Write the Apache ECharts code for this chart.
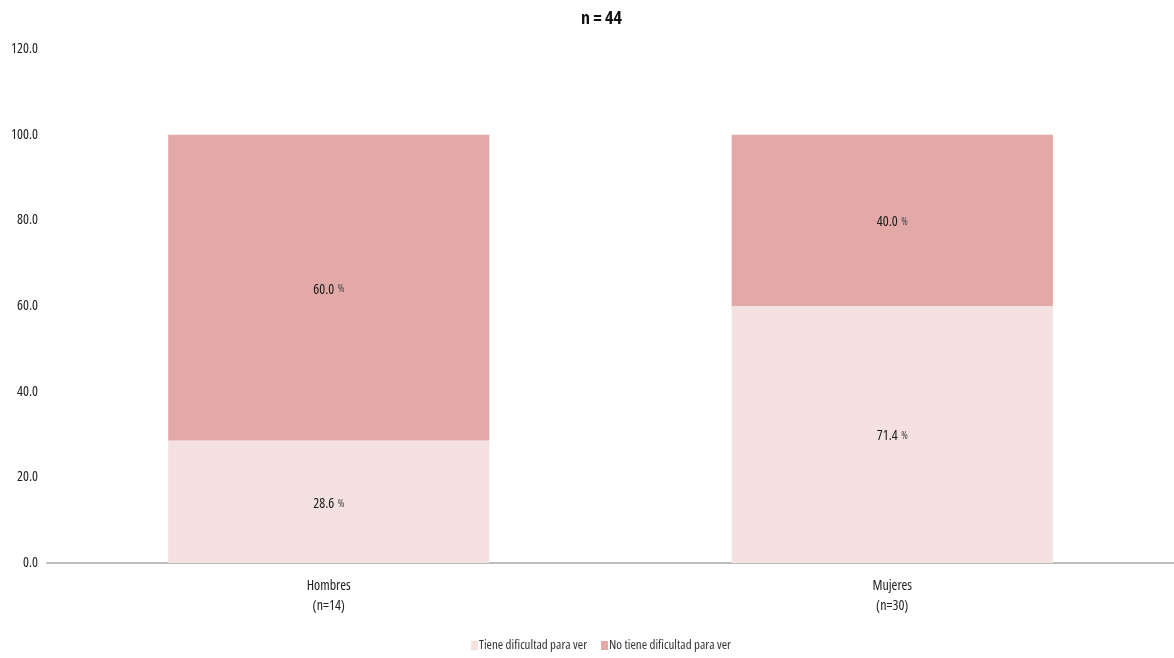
<!DOCTYPE html>
<html>
<head>
<meta charset="utf-8">
<script src="https://cdn.jsdelivr.net/npm/echarts@6/dist/echarts.min.js"></script>
<style>html,body{margin:0;padding:0;background:#fff}#c{width:1174px;height:658px}</style>
</head>
<body>
<div id="c"></div>
<script>
const categories = ['Hombres\n(n=14)', 'Mujeres\n(n=30)'];
const seriesNames = ['Tiene dificultad para ver', 'No tiene dificultad para ver'];
const tieneValues = [28.6, 60.0];
const noTieneValues = [71.4, 40.0];
const tieneLabels = ['28.6', '71.4'];
const noTieneLabels = ['60.0', '40.0'];
const titleText = 'n = 44';

const FONT = '"Open Sans", sans-serif';
const ST = 'condensed';
const chart = echarts.init(document.getElementById('c'), null, {renderer: 'canvas'});
function lbl(arr) {
  return {
    show: true, position: 'inside', offset: [0, 2],
    formatter: p => '{n|' + arr[p.dataIndex] + '} {p|%}',
    rich: {
      n: {fontFamily: FONT, fontStyle: ST, fontSize: 14, color: '#1a1a1a'},
      p: {fontFamily: FONT, fontStyle: ST, fontSize: 10, color: '#444'}
    }
  };
}
chart.setOption({
  animation: false,
  title: {text: titleText, left: 576, top: 5,
    textStyle: {fontFamily: FONT, fontStyle: ST, fontSize: 18, fontWeight: 'bold', color: '#111'}},
  legend: {bottom: 1, left: 466, itemWidth: 7, itemHeight: 9, itemGap: 14,
    icon: 'rect',
    textStyle: {fontFamily: FONT, fontStyle: ST, fontSize: 13, color: '#333', padding: [0,0,0,-4]}},
  grid: {left: 47, right: 0, top: 49, bottom: 95, containLabel: false},
  xAxis: {type: 'category', data: categories,
    axisLine: {lineStyle: {color: '#a6a6a6', width: 1.5}},
    axisTick: {show: false},
    axisLabel: {fontFamily: FONT, fontStyle: ST, fontSize: 14, color: '#222', margin: 13, lineHeight: 20}},
  yAxis: {type: 'value', min: 0, max: 120, interval: 20,
    splitLine: {show: false}, axisLine: {show: false}, axisTick: {show: false},
    axisLabel: {fontFamily: FONT, fontStyle: ST, fontSize: 14, color: '#222', margin: 9,
      verticalAlign: 'middle', padding: [3, 0, 0, 0],
      formatter: v => v.toFixed(1)}},
  series: [
    {name: seriesNames[0], type: 'bar', stack: 's', barWidth: '57%',
     itemStyle: {color: '#F4E1E0'}, data: tieneValues, label: lbl(tieneLabels)},
    {name: seriesNames[1], type: 'bar', stack: 's', barWidth: '57%',
     itemStyle: {color: '#E2A9A7'}, data: noTieneValues, label: lbl(noTieneLabels)}
  ]
});
</script>
</body>
</html>
